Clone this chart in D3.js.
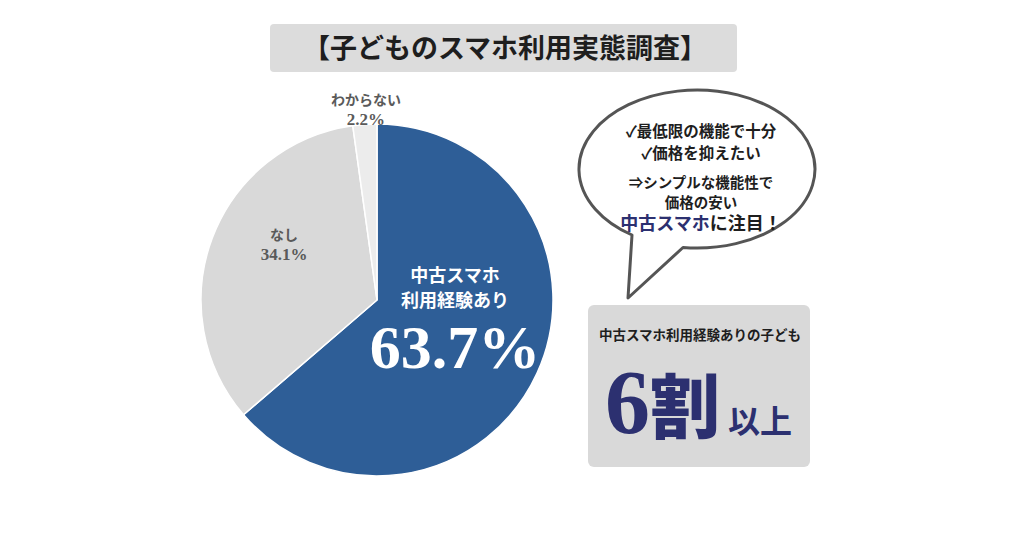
<!DOCTYPE html>
<html>
<head>
<meta charset="utf-8">
<script src="https://cdn.jsdelivr.net/npm/d3@7"></script>
<style>
    body { margin: 0; background: #ffffff; }
    svg { display: block; }
</style>
</head>
<body>
<svg id="chart"></svg>
<script>
// survey answers (percent)
const categories = ["中古スマホ利用経験あり", "なし", "わからない"];
const values = [63.7, 34.1, 2.2];
const shortLabels = ["中古スマホ\n利用経験あり", "なし", "わからない"];

const title = "【子どものスマホ利用実態調査】";
const bubbleLines = ["✓最低限の機能で十分", "✓価格を抑えたい", "", "⇒シンプルな機能性で", "価格の安い"];
const summaryText = "中古スマホ利用経験ありの子ども";

window.onload = () =>
{
    let width = 1024;
    let height = 538;
    let jp = "'Noto Sans CJK JP', 'Noto Sans', sans-serif";
    let serif = "'Liberation Serif', 'DejaVu Serif', serif";
    let navy = "#2c3070";

    let svg = d3.select("#chart").attr("width", width).attr("height", height);

    let data = categories.map((c, i) => ({name: c, label: shortLabels[i], value: values[i]}));

    let color = d3.scaleOrdinal()
        .domain(categories)
        .range(["#2e5e97", "#d9d9d9", "#ececec"]);

    // title box
    svg.append("rect")
        .attr("x", 270).attr("y", 24)
        .attr("width", 467).attr("height", 48)
        .attr("rx", 4)
        .attr("fill", "#dcdcdc");

    svg.append("text")
        .attr("x", 505).attr("y", 48)
        .attr("dy", "0.36em")
        .attr("text-anchor", "middle")
        .style("font", `bold 27px ${jp}`)
        .attr("fill", "#1e1e1e")
        .text(title);

    // pie
    let cx = 377, cy = 300, radius = 176;

    let pie = d3.pie().sort(null).value(d => d.value);
    let arc = d3.arc().innerRadius(0).outerRadius(radius);
    let arcs = pie(data);

    let g = svg.append("g").attr("transform", `translate(${cx},${cy})`);

    g.selectAll("path")
        .data(arcs)
        .join("path")
        .attr("d", arc)
        .attr("fill", d => color(d.data.name))
        .attr("stroke", "#ffffff")
        .attr("stroke-width", 1.5);

    // outer labels for the two small slices
    let labelPos = {
        "なし": {r: 110, dx: 10, dy: -17},
        "わからない": {r: 190, dx: 2, dy: -2}
    };

    arcs.slice(1).forEach(d =>
    {
        let p = labelPos[d.data.name];
        let [x, y] = d3.arc().innerRadius(p.r).outerRadius(p.r).centroid(d);
        let t = g.append("text")
            .attr("text-anchor", "middle")
            .attr("fill", "#5a5a5a")
            .attr("transform", `translate(${x + p.dx},${y + p.dy})`);
        t.append("tspan")
            .attr("x", 0).attr("y", -9)
            .attr("dy", "0.36em")
            .style("font", `bold 14px ${jp}`)
            .text(d.data.label);
        t.append("tspan")
            .attr("x", 0).attr("y", 10)
            .attr("dy", "0.36em")
            .style("font", `bold 17px ${serif}`)
            .text(d3.format(".1f")(d.data.value) + "%");
    });

    // label inside the main slice
    let main = arcs[0];
    let mainG = g.append("g")
        .attr("transform", "translate(78,0)")
        .attr("fill", "#ffffff")
        .attr("text-anchor", "middle");

    main.data.label.split("\n").forEach((line, i) =>
    {
        mainG.append("text")
            .attr("y", -24 + i * 24.5)
            .attr("dy", "0.36em")
            .style("font", `bold 18px ${jp}`)
            .text(line);
    });

    mainG.append("text")
        .attr("y", 68)
        .style("font", `bold 62px ${serif}`)
        .text(d3.format(".1f")(main.data.value) + "%");

    // speech bubble
    let rx = 118, ry = 79;
    let bubble = d3.path();
    bubble.moveTo(632, 235);
    bubble.lineTo(628, 298);
    bubble.lineTo(683, 247.5);
    svg.append("path")
        .attr("d", bubble.toString() + ` A ${rx} ${ry} 0 1 0 632 235 Z`)
        .attr("fill", "#ffffff")
        .attr("stroke", "#555555")
        .attr("stroke-width", 3)
        .attr("stroke-linejoin", "round");

    let lineY = [131, 153, 0, 183, 203];
    bubbleLines.forEach((line, i) =>
    {
        if (!line) return;
        svg.append("text")
            .attr("x", 701).attr("y", lineY[i])
            .attr("dy", "0.36em")
            .attr("text-anchor", "middle")
            .attr("fill", "#1e1e1e")
            .style("font", `bold ${i < 2 ? 15.5 : 14.5}px ${jp}`)
            .text(line);
    });

    let last = svg.append("text")
        .attr("x", 701).attr("y", 224)
        .attr("dy", "0.36em")
        .attr("text-anchor", "middle")
        .style("font", `bold 18px ${jp}`);
    last.append("tspan").attr("fill", navy).text("中古スマホ");
    last.append("tspan").attr("fill", "#1e1e1e").text("に注目！");

    // summary box
    svg.append("rect")
        .attr("x", 588).attr("y", 305)
        .attr("width", 222).attr("height", 162)
        .attr("rx", 6)
        .attr("fill", "#d9d9d9");

    svg.append("text")
        .attr("x", 700).attr("y", 335)
        .attr("dy", "0.36em")
        .attr("text-anchor", "middle")
        .attr("fill", "#1e1e1e")
        .style("font", `bold 13.5px ${jp}`)
        .text(summaryText);

    let big = svg.append("text")
        .attr("x", 605).attr("y", 433)
        .attr("fill", navy);
    big.append("tspan")
        .style("font", `bold 90px ${serif}`)
        .text(Math.floor(values[0] / 10));
    big.append("tspan")
        .style("font", `900 70px ${jp}`)
        .text("割");
    big.append("tspan")
        .attr("dx", 8)
        .style("font", `bold 32px ${jp}`)
        .text("以上");
};
</script>
</body>
</html>
